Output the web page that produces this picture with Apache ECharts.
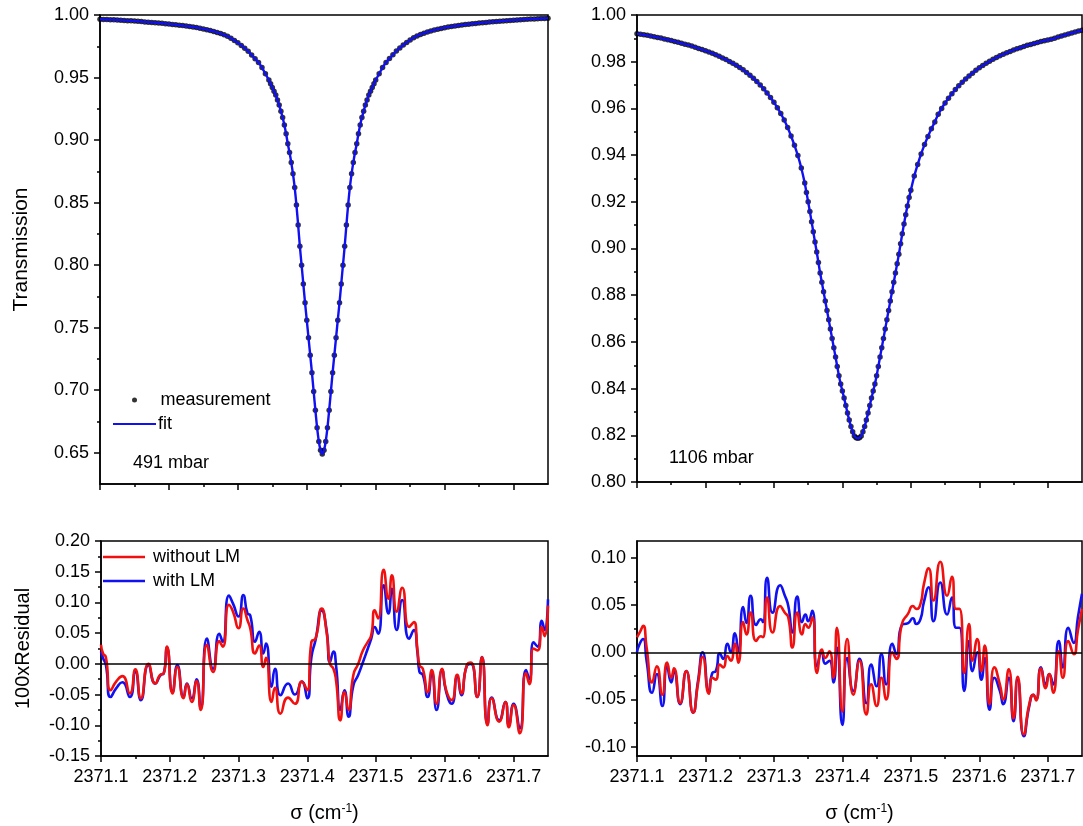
<!DOCTYPE html>
<html><head><meta charset="utf-8">
<script src="https://cdn.jsdelivr.net/npm/echarts@6/dist/echarts.min.js"></script>
<style>html,body{margin:0;padding:0;background:#fff}#c{width:1083px;height:826px}</style>
</head><body><div id="c"></div><script>
// ---------- DATA ----------
const X_MAJOR = [2371.1, 2371.2, 2371.3, 2371.4, 2371.5, 2371.6, 2371.7];
const X_MINOR = [2371.15, 2371.25, 2371.35, 2371.45, 2371.55, 2371.65];
const Y_TL_MAJOR = [0.65, 0.70, 0.75, 0.80, 0.85, 0.90, 0.95, 1.00];
const Y_TL_MINOR = [0.675, 0.725, 0.775, 0.825, 0.875, 0.925, 0.975];
const Y_TR_MAJOR = [0.80, 0.82, 0.84, 0.86, 0.88, 0.90, 0.92, 0.94, 0.96, 0.98, 1.00];
const Y_TR_MINOR = [0.81, 0.83, 0.85, 0.87, 0.89, 0.91, 0.93, 0.95, 0.97, 0.99];
const Y_BL_MAJOR = [-0.15, -0.10, -0.05, 0.00, 0.05, 0.10, 0.15, 0.20];
const Y_BL_MINOR = [-0.125, -0.075, -0.025, 0.025, 0.075, 0.125, 0.175];
const Y_BR_MAJOR = [-0.10, -0.05, 0.00, 0.05, 0.10];
const Y_BR_MINOR = [-0.075, -0.025, 0.025, 0.075];

// wavenumber grid of the transmission measurements (cm-1)
const sigmaTop = [
2371.100,2371.105,2371.110,2371.115,2371.120,2371.125,2371.130,2371.135,2371.140,2371.145,
2371.150,2371.155,2371.160,2371.165,2371.170,2371.175,2371.180,2371.185,2371.190,2371.195,
2371.200,2371.205,2371.210,2371.215,2371.220,2371.225,2371.230,2371.235,2371.240,2371.245,
2371.250,2371.255,2371.260,2371.265,2371.270,2371.275,2371.280,2371.285,2371.290,2371.295,
2371.300,2371.305,2371.310,2371.315,2371.320,2371.325,2371.330,2371.335,2371.340,2371.345,
2371.3475,2371.3500,2371.3525,2371.3550,2371.3575,2371.3600,2371.3625,2371.3650,2371.3675,2371.3700,
2371.3725,2371.3750,2371.3775,2371.3800,2371.3825,2371.3850,2371.3875,2371.3900,2371.3925,2371.3950,
2371.3975,2371.4000,2371.4025,2371.4050,2371.4075,2371.4100,2371.4125,2371.4150,2371.4175,2371.4200,
2371.4225,
2371.4250,2371.4275,2371.4300,2371.4325,2371.4350,2371.4375,2371.4400,2371.4425,2371.4450,2371.4475,
2371.4500,2371.4525,2371.4550,2371.4575,2371.4600,2371.4625,2371.4650,2371.4675,2371.4700,2371.4725,
2371.4750,2371.4775,2371.4800,2371.4825,2371.4850,2371.4875,2371.4900,2371.4925,2371.4950,2371.4975,
2371.500,2371.505,2371.510,2371.515,2371.520,2371.525,2371.530,2371.535,2371.540,2371.545,
2371.550,2371.555,2371.560,2371.565,2371.570,2371.575,2371.580,2371.585,2371.590,2371.595,
2371.600,2371.605,2371.610,2371.615,2371.620,2371.625,2371.630,2371.635,2371.640,2371.645,
2371.650,2371.655,2371.660,2371.665,2371.670,2371.675,2371.680,2371.685,2371.690,2371.695,
2371.700,2371.705,2371.710,2371.715,2371.720,2371.725,2371.730,2371.735,2371.740,2371.745,
2371.750
];

// 491 mbar transmission
const trans491 = [
0.9966,0.9965,0.9964,0.9963,0.9962,0.9960,0.9959,0.9957,0.9955,0.9954,
0.9952,0.9950,0.9948,0.9945,0.9943,0.9941,0.9939,0.9936,0.9934,0.9931,
0.9928,0.9925,0.9922,0.9919,0.9916,0.9912,0.9908,0.9904,0.9900,0.9895,
0.9889,0.9883,0.9876,0.9869,0.9861,0.9852,0.9842,0.9830,0.9815,0.9797,
0.9778,0.9757,0.9735,0.9710,0.9680,0.9650,0.9620,0.9580,0.9530,0.9480,
0.945,0.942,0.939,0.936,0.932,0.928,0.923,0.918,0.912,0.905,
0.897,0.890,0.882,0.873,0.862,0.848,0.832,0.815,0.800,0.785,
0.770,0.756,0.742,0.728,0.714,0.699,0.684,0.670,0.659,0.652,
0.649,
0.652,0.659,0.670,0.684,0.699,0.714,0.728,0.742,0.756,0.770,
0.785,0.800,0.815,0.832,0.848,0.862,0.873,0.882,0.890,0.897,
0.905,0.912,0.918,0.923,0.928,0.932,0.936,0.939,0.942,0.945,
0.9480,0.9530,0.9580,0.9620,0.9652,0.9682,0.9712,0.9737,0.9760,0.9781,
0.9800,0.9818,0.9833,0.9845,0.9855,0.9864,0.9872,0.9880,0.9887,0.9893,
0.9899,0.9904,0.9908,0.9912,0.9916,0.9920,0.9924,0.9927,0.9930,0.9933,
0.9936,0.9939,0.9941,0.9944,0.9946,0.9948,0.9950,0.9953,0.9955,0.9957,
0.9959,0.9961,0.9963,0.9965,0.9966,0.9968,0.9969,0.9970,0.9972,0.9973,
0.9975
];

// 1106 mbar transmission
const trans1106 = [
0.9920,0.9918,0.9915,0.9913,0.9910,0.9907,0.9904,0.9901,0.9897,0.9894,
0.9891,0.9887,0.9883,0.9879,0.9875,0.9871,0.9867,0.9862,0.9857,0.9852,
0.9847,0.9842,0.9836,0.9830,0.9823,0.9816,0.9809,0.9801,0.9793,0.9785,
0.9775,0.9765,0.9754,0.9742,0.9729,0.9715,0.9700,0.9684,0.9666,0.9647,
0.9626,0.9603,0.9578,0.9550,0.9518,0.9482,0.9442,0.9398,0.9345,0.9280,
0.9240,0.9200,0.9158,0.9115,0.9072,0.9028,0.8985,0.8940,0.8895,0.8855,
0.8815,0.8775,0.8735,0.8695,0.8655,0.8615,0.8575,0.8535,0.8495,0.8455,
0.8420,0.8390,0.8360,0.8328,0.8295,0.8265,0.8238,0.8215,0.8197,0.8190,
0.8187,
0.8190,0.8197,0.8215,0.8238,0.8265,0.8295,0.8328,0.8360,0.8390,0.8420,
0.8455,0.8495,0.8535,0.8575,0.8615,0.8655,0.8695,0.8735,0.8775,0.8815,
0.8855,0.8895,0.8935,0.8975,0.9020,0.9063,0.9105,0.9145,0.9182,0.9218,
0.9250,0.9310,0.9360,0.9405,0.9445,0.9480,0.9513,0.9542,0.9575,0.9600,
0.9623,0.9644,0.9663,0.9681,0.9697,0.9712,0.9726,0.9739,0.9751,0.9763,
0.9774,0.9784,0.9793,0.9802,0.9810,0.9818,0.9825,0.9832,0.9838,0.9844,
0.9850,0.9855,0.9860,0.9865,0.9870,0.9874,0.9878,0.9882,0.9886,0.9890,
0.9893,0.9896,0.9900,0.9906,0.9910,0.9914,0.9919,0.9923,0.9927,0.9931,
0.9935
];

// 491 mbar residuals (x100)
const sigmaRes491 = [
2371.100,2371.103,2371.107,2371.114,2371.122,2371.131,2371.142,2371.150,2371.158,2371.169,
2371.179,2371.187,2371.191,2371.196,2371.204,2371.211,2371.220,2371.225,2371.232,2371.239,
2371.245,2371.254,2371.263,2371.272,2371.277,2371.286,2371.292,2371.300,2371.307,2371.313,
2371.317,2371.324,2371.330,2371.336,2371.340,2371.348,2371.353,2371.361,2371.372,2371.382,
2371.392,2371.400,2371.406,2371.412,2371.421,2371.428,2371.433,2371.438,2371.442,2371.448,
2371.454,2371.460,2371.467,2371.474,2371.481,2371.488,2371.493,2371.498,2371.503,2371.511,
2371.518,2371.523,2371.530,2371.538,2371.548,2371.555,2371.560,2371.563,2371.568,2371.575,
2371.581,2371.588,2371.596,2371.602,2371.610,2371.618,2371.624,2371.632,2371.638,2371.647,
2371.654,2371.662,2371.668,2371.679,2371.688,2371.693,2371.700,2371.709,2371.718,2371.723,
2371.729,2371.735,2371.741,2371.745,2371.750
];
const resNoLM491 = [
0.031,0.017,0.011,-0.043,-0.029,-0.020,-0.048,-0.009,-0.056,0.000,
-0.032,-0.017,-0.016,0.028,-0.048,-0.005,-0.056,-0.033,-0.062,-0.028,
-0.075,0.031,-0.013,0.037,0.028,0.096,0.085,0.058,0.090,0.071,
0.058,0.017,0.030,-0.005,0.010,-0.062,-0.039,-0.081,-0.055,-0.065,
-0.029,-0.043,0.036,0.041,0.090,0.052,0.000,-0.008,-0.029,-0.092,
-0.046,-0.075,-0.018,0.000,0.022,0.036,0.047,0.087,0.074,0.153,
0.106,0.144,0.085,0.124,0.060,0.068,0.025,-0.002,-0.008,-0.046,
-0.010,-0.065,-0.008,-0.043,-0.059,-0.018,-0.048,-0.002,0.002,-0.054,
0.011,-0.100,-0.056,-0.094,-0.062,-0.103,-0.067,-0.113,-0.015,-0.033,
0.025,0.022,0.060,0.045,0.095
];
const resLM491 = [
0.020,0.009,-0.001,-0.054,-0.040,-0.030,-0.054,-0.013,-0.059,-0.002,
-0.032,-0.018,-0.016,0.026,-0.046,-0.002,-0.054,-0.032,-0.056,-0.025,
-0.072,0.041,-0.008,0.049,0.036,0.111,0.098,0.077,0.112,0.082,
0.079,0.036,0.052,0.017,0.033,-0.037,-0.008,-0.051,-0.032,-0.050,
-0.029,-0.056,0.011,0.039,0.087,0.055,0.003,0.020,-0.005,-0.075,
-0.043,-0.086,-0.035,-0.018,0.003,0.025,0.041,0.060,0.049,0.128,
0.082,0.122,0.055,0.104,0.041,0.055,0.020,-0.013,-0.018,-0.054,
-0.016,-0.075,-0.010,-0.046,-0.065,-0.021,-0.051,-0.003,0.000,-0.054,
0.011,-0.098,-0.055,-0.092,-0.062,-0.100,-0.065,-0.105,-0.010,-0.025,
0.035,0.028,0.070,0.055,0.105
];

// 1106 mbar residuals (x100)
const sigmaRes1106 = [
2371.100,2371.104,2371.109,2371.114,2371.122,2371.129,2371.137,2371.144,2371.150,2371.154,
2371.163,2371.172,2371.182,2371.189,2371.196,2371.205,2371.210,2371.215,2371.221,2371.226,
2371.232,2371.237,2371.243,2371.248,2371.255,2371.260,2371.266,2371.274,2371.281,2371.284,
2371.290,2371.298,2371.309,2371.316,2371.321,2371.327,2371.334,2371.341,2371.346,2371.350,
2371.356,2371.363,2371.370,2371.375,2371.381,2371.387,2371.392,2371.400,2371.407,2371.416,
2371.425,2371.435,2371.442,2371.450,2371.457,2371.464,2371.473,2371.479,2371.487,2371.496,
2371.503,2371.508,2371.514,2371.519,2371.526,2371.533,2371.543,2371.553,2371.560,2371.566,
2371.571,2371.578,2371.585,2371.590,2371.597,2371.603,2371.608,2371.615,2371.622,2371.630,
2371.635,2371.643,2371.650,2371.656,2371.665,2371.673,2371.679,2371.683,2371.690,2371.697,
2371.702,2371.708,2371.716,2371.722,2371.730,2371.738,2371.744,2371.750
];
const resNoLM1106 = [
0.016,0.021,0.028,0.005,-0.032,-0.015,-0.045,-0.011,-0.027,-0.017,
-0.054,-0.020,-0.064,-0.034,-0.005,-0.044,-0.027,-0.029,-0.013,-0.016,
-0.004,-0.009,0.009,-0.011,0.032,0.019,0.042,0.012,0.017,0.016,
0.058,0.021,0.049,0.042,0.037,0.005,0.042,0.019,0.030,0.026,
0.037,-0.022,0.003,-0.006,0.001,-0.027,0.026,-0.063,0.014,-0.045,
-0.009,-0.066,-0.034,-0.057,-0.027,-0.050,0.000,-0.007,0.030,0.041,
0.049,0.046,0.051,0.072,0.089,0.055,0.096,0.060,0.080,0.046,
0.046,-0.022,0.030,-0.009,0.014,-0.020,0.007,-0.055,-0.016,-0.034,
-0.050,-0.018,-0.070,-0.026,-0.087,-0.055,-0.045,-0.051,-0.017,-0.038,
-0.023,-0.043,0.001,-0.027,0.012,-0.002,0.023,0.046
];
const resLM1106 = [
0.000,0.009,0.014,-0.009,-0.043,-0.023,-0.057,-0.015,-0.032,-0.020,
-0.055,-0.020,-0.064,-0.031,0.000,-0.042,-0.022,-0.020,-0.001,-0.007,
0.009,0.000,0.020,0.001,0.048,0.031,0.060,0.029,0.035,0.032,
0.079,0.042,0.071,0.060,0.049,0.021,0.059,0.032,0.040,0.033,
0.044,-0.015,0.000,-0.012,-0.009,-0.032,0.005,-0.077,-0.006,-0.041,
-0.007,-0.054,-0.013,-0.036,-0.002,-0.034,0.009,-0.002,0.029,0.031,
0.036,0.030,0.035,0.053,0.069,0.033,0.074,0.040,0.058,0.026,
0.026,-0.041,0.012,-0.020,0.000,-0.029,-0.006,-0.061,-0.027,-0.041,
-0.055,-0.027,-0.073,-0.029,-0.089,-0.057,-0.045,-0.050,-0.016,-0.034,
-0.023,-0.034,0.012,-0.016,0.026,0.010,0.037,0.062
];

// ---------- CHART ----------
const FONT = '"Liberation Sans", Arial, Helvetica, sans-serif';
const BLACK = '#000';
const RED = '#f01010';
const BLUE = '#1010f0';
const zip = (xs, ys) => xs.map((x, i) => [x, ys[i]]);

function xAxes(gi, showLabels, withName) {
  const main = {
    type: 'value', gridIndex: gi, min: 2371.1, max: 2371.75, position: 'bottom',
    axisLine: { show: true, onZero: false, lineStyle: { color: BLACK, width: 1.5 } },
    axisTick: { show: true, inside: false, length: 6, customValues: X_MAJOR, lineStyle: { color: BLACK, width: 1.5 } },
    axisLabel: { show: showLabels, customValues: X_MAJOR, formatter: v => v.toFixed(1), color: BLACK, fontSize: 18, fontFamily: FONT, margin: 12 },
    splitLine: { show: false }
  };
  if (withName) {
    main.name = '{a|σ (cm}{s|-1}{a|)}';
    main.nameLocation = 'middle';
    main.nameGap = 47;
    main.nameTextStyle = { color: BLACK, fontFamily: FONT, rich: {
      a: { fontSize: 20, fontFamily: FONT, color: BLACK },
      s: { fontSize: 12, fontFamily: FONT, color: BLACK, verticalAlign: 'top', padding: [0, 0, 9, 0] } } };
  }
  const minor = {
    type: 'value', gridIndex: gi, min: 2371.1, max: 2371.75, position: 'bottom',
    axisLine: { show: false, onZero: false },
    axisTick: { show: true, inside: false, length: 3, customValues: X_MINOR, lineStyle: { color: BLACK, width: 1.5 } },
    axisLabel: { show: false }, splitLine: { show: false }
  };
  return [main, minor];
}
function yAxes(gi, min, max, major, minor, name, nameSize) {
  const m = {
    type: 'value', gridIndex: gi, min, max, position: 'left',
    axisLine: { show: true, onZero: false, lineStyle: { color: BLACK, width: 1.5 } },
    axisTick: { show: true, inside: false, length: 6, customValues: major, lineStyle: { color: BLACK, width: 1.5 } },
    axisLabel: { show: true, customValues: major, formatter: v => v.toFixed(2), color: BLACK, fontSize: 18, fontFamily: FONT, margin: 11 },
    splitLine: { show: false }
  };
  if (name) {
    m.name = name; m.nameLocation = 'middle'; m.nameGap = 68;
    m.nameTextStyle = { color: BLACK, fontSize: nameSize, fontFamily: FONT };
  }
  const mi = {
    type: 'value', gridIndex: gi, min, max, position: 'left',
    axisLine: { show: false, onZero: false },
    axisTick: { show: true, inside: false, length: 3, customValues: minor, lineStyle: { color: BLACK, width: 1.5 } },
    axisLabel: { show: false }, splitLine: { show: false }
  };
  return [m, mi];
}

const gridStyle = { show: true, borderColor: BLACK, borderWidth: 1.5, backgroundColor: 'transparent', containLabel: false };

const zeroLine = {
  silent: true, symbol: 'none', animation: false,
  label: { show: false },
  lineStyle: { color: BLACK, width: 1.5, type: 'solid' },
  data: [{ yAxis: 0 }]
};

const option = {
  animation: false,
  backgroundColor: '#fff',
  textStyle: { fontFamily: FONT },
  grid: [
    Object.assign({ left: 100, top: 15, width: 448, height: 469 }, gridStyle),
    Object.assign({ left: 637, top: 15, width: 445, height: 467 }, gridStyle),
    Object.assign({ left: 101, top: 541, width: 447, height: 215 }, gridStyle),
    Object.assign({ left: 637, top: 541, width: 445, height: 215 }, gridStyle)
  ],
  xAxis: [].concat(
    xAxes(0, false, false), xAxes(1, false, false),
    xAxes(2, true, true), xAxes(3, true, true)
  ),
  yAxis: [].concat(
    yAxes(0, 0.625, 1.0, Y_TL_MAJOR, Y_TL_MINOR, 'Transmission', 21),
    yAxes(1, 0.80, 1.0, Y_TR_MAJOR, Y_TR_MINOR, null),
    yAxes(2, -0.15, 0.20, Y_BL_MAJOR, Y_BL_MINOR, '100xResidual', 20),
    yAxes(3, -0.11, 0.118, Y_BR_MAJOR, Y_BR_MINOR, null)
  ),
  legend: [
    { data: [{ name: 'measurement', icon: 'circle' }], left: 127, top: 386, orient: 'vertical',
      itemWidth: 42, itemHeight: 5, selectedMode: false,
      textStyle: { color: BLACK, fontSize: 18, fontFamily: FONT, padding: [0, 0, 0, 0] } },
    { data: [{ name: 'fit', icon: 'rect' }], left: 108, top: 410, orient: 'vertical',
      itemWidth: 43, itemHeight: 2, selectedMode: false,
      textStyle: { color: BLACK, fontSize: 18, fontFamily: FONT, padding: [0, 0, 0, -3] } },
    { data: [{ name: 'without LM', icon: 'rect' }, { name: 'with LM', icon: 'rect' }],
      left: 98, top: 542, orient: 'vertical', itemWidth: 42, itemHeight: 2.5, itemGap: 4, selectedMode: false,
      textStyle: { color: BLACK, fontSize: 18, fontFamily: FONT, lineHeight: 20, padding: [0, 0, 0, 3] } }
  ],
  graphic: [
    { type: 'text', left: 133, top: 454, style: { text: '491 mbar', fontSize: 18, fontFamily: FONT, fill: BLACK } },
    { type: 'text', left: 669, top: 449, style: { text: '1106 mbar', fontSize: 18, fontFamily: FONT, fill: BLACK } }
  ],
  series: [
    { name: 'measurement', type: 'scatter', xAxisIndex: 0, yAxisIndex: 0, symbol: 'circle', symbolSize: 5.5,
      itemStyle: { color: BLACK }, data: zip(sigmaTop, trans491), z: 2 },
    { name: 'fit', type: 'line', xAxisIndex: 0, yAxisIndex: 0, showSymbol: false, smooth: 0.3,
      itemStyle: { color: BLUE }, lineStyle: { color: BLUE, width: 2.4 }, data: zip(sigmaTop, trans491), z: 3 },
    { name: 'measurement', type: 'scatter', xAxisIndex: 2, yAxisIndex: 2, symbol: 'circle', symbolSize: 5.5,
      itemStyle: { color: BLACK }, data: zip(sigmaTop, trans1106), z: 2 },
    { name: 'fit', type: 'line', xAxisIndex: 2, yAxisIndex: 2, showSymbol: false, smooth: 0.3,
      itemStyle: { color: BLUE }, lineStyle: { color: BLUE, width: 2.4 }, data: zip(sigmaTop, trans1106), z: 3 },

    { name: 'with LM', type: 'line', xAxisIndex: 4, yAxisIndex: 4, showSymbol: false, smooth: 0.6,
      itemStyle: { color: BLUE }, lineStyle: { color: BLUE, width: 2.6 }, data: zip(sigmaRes491, resLM491), z: 3 },
    { name: 'without LM', type: 'line', xAxisIndex: 4, yAxisIndex: 4, showSymbol: false, smooth: 0.6,
      itemStyle: { color: RED }, lineStyle: { color: RED, width: 2.6 }, data: zip(sigmaRes491, resNoLM491), z: 4,
      markLine: zeroLine },
    { name: 'with LM', type: 'line', xAxisIndex: 6, yAxisIndex: 6, showSymbol: false, smooth: 0.6,
      itemStyle: { color: BLUE }, lineStyle: { color: BLUE, width: 2.6 }, data: zip(sigmaRes1106, resLM1106), z: 3 },
    { name: 'without LM', type: 'line', xAxisIndex: 6, yAxisIndex: 6, showSymbol: false, smooth: 0.6,
      itemStyle: { color: RED }, lineStyle: { color: RED, width: 2.6 }, data: zip(sigmaRes1106, resNoLM1106), z: 4,
      markLine: zeroLine }
  ]
};

const chart = echarts.init(document.getElementById('c'), null, { renderer: 'canvas' });
chart.setOption(option);
</script></body></html>
